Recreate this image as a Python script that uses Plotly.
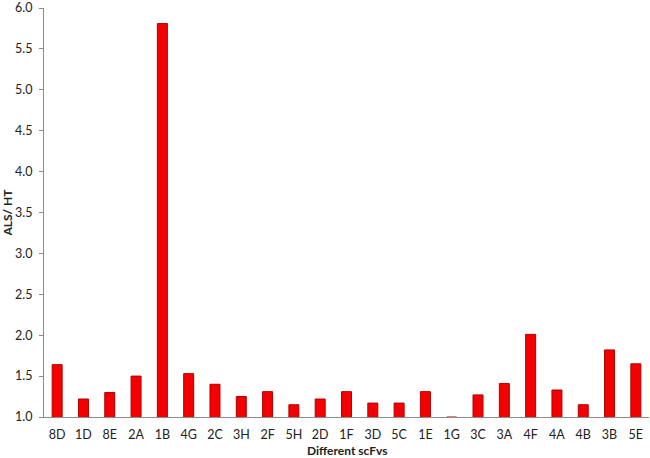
import plotly.graph_objects as go

categories = ["8D", "1D", "8E", "2A", "1B", "4G", "2C", "3H", "2F", "5H", "2D", "1F",
              "3D", "5C", "1E", "1G", "3C", "3A", "4F", "4A", "4B", "3B", "5E"]
values = [1.64, 1.22, 1.30, 1.50, 5.81, 1.53, 1.40, 1.25, 1.31, 1.15, 1.22, 1.31,
          1.17, 1.17, 1.31, 1.00, 1.27, 1.41, 2.01, 1.33, 1.15, 1.82, 1.65]
y_ticks = [1.0, 1.5, 2.0, 2.5, 3.0, 3.5, 4.0, 4.5, 5.0, 5.5, 6.0]

fig = go.Figure(go.Bar(
    x=categories, y=values,
    marker=dict(color="#f50000", line=dict(color="#b00000", width=1)),
    width=0.38,
))

plot_h = 458 - 8 - 41

fig.update_layout(
    width=650, height=458,
    margin=dict(l=44, r=1, t=8, b=41, autoexpand=False),
    paper_bgcolor="white", plot_bgcolor="white",
    font=dict(family="Lato, Open Sans, sans-serif", size=12, color="#222"),
    showlegend=False,
    xaxis=dict(
        range=[-0.5, len(categories) - 0.5],
        showline=True, linecolor="#8c8c8c", linewidth=1,
        ticks="", showgrid=False, automargin=False,
        ticklabelstandoff=6,
        tickfont=dict(size=12.5),
    ),
    yaxis=dict(
        range=[1.0, 6.0001], tickvals=y_ticks, ticktext=[f"{v:.1f}" for v in y_ticks],
        showline=True, linecolor="#8c8c8c", linewidth=1,
        ticks="outside", ticklen=4, tickcolor="#8c8c8c",
        ticklabelstandoff=4, ticklabeloverflow="allow",
        showgrid=False, zeroline=False, automargin=False,
        title=dict(text="<b>ALS/ HT</b>", standoff=8, font=dict(size=12)),
        tickfont=dict(size=12.5),
    ),
    annotations=[dict(
        text="<b>Different scFvs</b>", xref="paper", yref="paper",
        x=0.5, y=-33 / plot_h, xanchor="center", yanchor="middle",
        showarrow=False, font=dict(size=12),
    )],
)

fig.write_html("out.html", config={"displayModeBar": False},
               post_script="document.body.style.margin='0';document.body.style.overflow='hidden';")
